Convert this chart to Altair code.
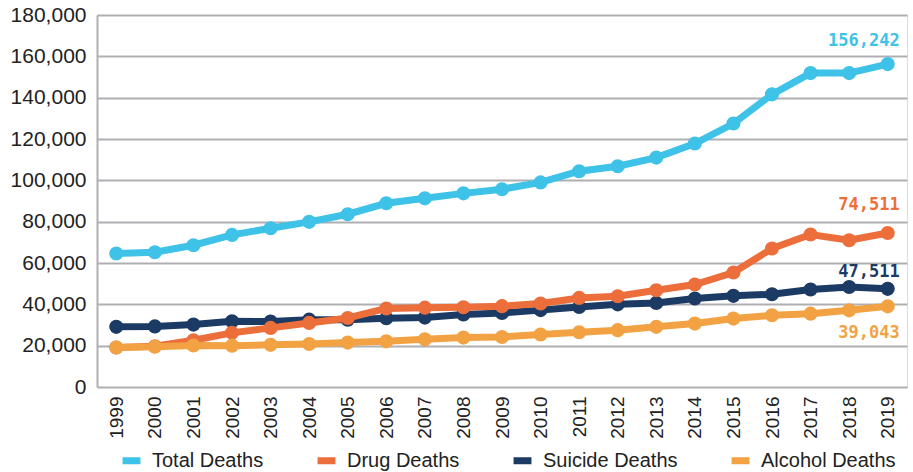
import altair as alt
import pandas as pd

years = [str(y) for y in range(1999, 2020)]
series_names = ["Total Deaths", "Drug Deaths", "Suicide Deaths", "Alcohol Deaths"]
colors = ["#3FC2E7", "#EC6E3B", "#1C3B64", "#F2A243"]

total = [64600, 65200, 68600, 73600, 76800, 79900, 83600, 88900, 91300, 93700, 95700,
         99000, 104400, 106800, 111000, 117800, 127500, 141600, 151900, 151900, 156242]
drug = [19100, 19700, 22600, 26200, 28600, 31000, 33400, 38000, 38400, 38600, 39100,
        40400, 43100, 43900, 46800, 49600, 55400, 67000, 73800, 71000, 74511]
suicide = [29100, 29300, 30200, 31800, 31700, 32600, 32600, 33300, 33600, 35100, 35800,
           37200, 38700, 40000, 40700, 42800, 44100, 44900, 47200, 48400, 47511]
alcohol = [19100, 19500, 20100, 20000, 20400, 20800, 21500, 22100, 23100, 23900, 24200,
           25400, 26500, 27500, 29100, 30700, 33100, 34700, 35500, 37100, 39043]

values = {"Total Deaths": total, "Drug Deaths": drug,
          "Suicide Deaths": suicide, "Alcohol Deaths": alcohol}
label_dy = {"Total Deaths": -23, "Drug Deaths": -28, "Suicide Deaths": -17, "Alcohol Deaths": 27}

rows = []
for s in series_names:
    for y, v in zip(years, values[s]):
        rows.append({"year": y, "series": s, "deaths": v})
df = pd.DataFrame(rows)

FONT = "Liberation Sans"

x_enc = alt.X("year:O", title=None, scale=alt.Scale(paddingOuter=0.5, paddingInner=0),
              axis=alt.Axis(labelAngle=270, labelFontSize=19, labelColor="#222",
                            labelPadding=9, ticks=False, domain=False, labelFont=FONT))
y_enc = alt.Y("deaths:Q", title=None,
              scale=alt.Scale(domain=[0, 180000], nice=False),
              axis=alt.Axis(values=list(range(0, 180001, 20000)),
                            labelExpr="format(datum.value, ',')",
                            labelFontSize=21, labelColor="#222", labelPadding=11,
                            ticks=False, domain=True, domainColor="#AFAFB3",
                            domainWidth=2, grid=True, gridColor="#AFAFB3",
                            gridWidth=2, labelFont=FONT))
color_enc = alt.Color("series:N", scale=alt.Scale(domain=series_names, range=colors),
                      legend=alt.Legend(title=None, orient="none", direction="horizontal",
                                        legendX=22, legendY=433,
                                        symbolType="stroke", symbolSize=320,
                                        symbolStrokeWidth=7, labelFontSize=20,
                                        labelFont=FONT, labelColor="#222",
                                        columnPadding=39, labelOffset=8))

draw_order = ["Total Deaths", "Suicide Deaths", "Drug Deaths", "Alcohol Deaths"]
layers = []
for s in draw_order:
    base = alt.Chart(df).transform_filter(alt.datum.series == s)
    layers.append(base.mark_line(strokeWidth=7).encode(x=x_enc, y=y_enc, color=color_enc))
    layers.append(base.mark_circle(size=200, opacity=1).encode(x=x_enc, y=y_enc, color=color_enc))

for s in series_names:
    idx = series_names.index(s)
    layers.append(
        alt.Chart(df).transform_filter((alt.datum.series == s) & (alt.datum.year == "2019"))
        .mark_text(align="right", baseline="middle", dx=12, dy=label_dy[s],
                   fontSize=17, fontWeight="bold", font="DejaVu Sans Mono",
                   color=colors[idx])
        .encode(x=x_enc, y=y_enc, text=alt.Text("deaths:Q", format=","))
    )

chart = alt.layer(*layers).properties(
    width=810, height=372,
    autosize=alt.AutoSizeParams(type="none"),
    padding={"left": 97, "top": 15, "right": 6, "bottom": 85},
).configure_view(stroke=None).configure(background="white")

chart.save("out.html", embed_options={"renderer": "svg", "actions": False})
